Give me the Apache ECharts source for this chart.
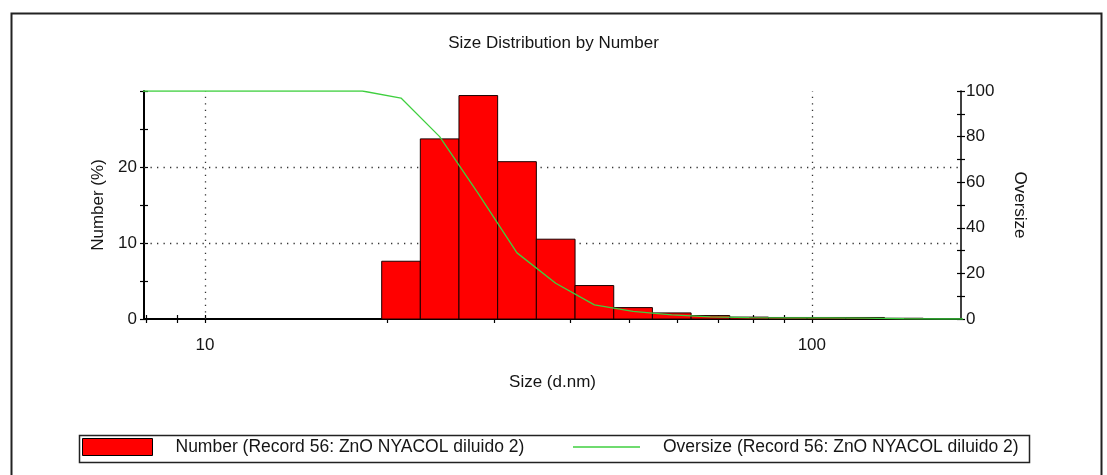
<!DOCTYPE html>
<html>
<head>
<meta charset="utf-8">
<script src="https://cdn.jsdelivr.net/npm/echarts@6/dist/echarts.min.js"></script>
<style>
  html, body { margin: 0; padding: 0; background: #ffffff; }
  #chart { width: 1107px; height: 475px; }
</style>
</head>
<body>
<div id="chart"></div>
<script>
// Size classes (d.nm) of the distribution
const sizes = [7.531, 8.721, 10.1, 11.7, 13.54, 15.69, 18.17, 21.04, 24.36, 28.21, 32.67, 37.84,
               43.82, 50.75, 58.77, 68.06, 78.82, 91.28, 105.7, 122.4, 141.8, 164.2, 190.1];
// Number distribution (%) per size class
const numberPct = [0, 0, 0, 0, 0, 0, 0, 7.6, 23.7, 29.4, 20.7, 10.5,
                   4.4, 1.5, 0.8, 0.45, 0.25, 0.2, 0.2, 0.2, 0.1, 0, 0];
// Cumulative oversize (%) at each size class
const oversize = [100, 100, 100, 100, 100, 100, 100, 96.9, 80.0, 55.0, 29.0, 15.7,
                  6.2, 3.3, 1.8, 0.9, 0.6, 0.5, 0.45, 0.35, 0.1, 0, 0];
// Axis ticks and labels
const xTickValues = [8, 9, 10, 20, 30, 40, 50, 60, 70, 80, 90, 100];
const xLabelValues = [10, 100];
const xRange = [7.935, 176.1];
const gridValuesNumber = [10, 20];
const gridValuesSize = [10, 100];

const numberName = 'Number (Record 56: ZnO NYACOL diluido 2)';
const oversizeName = 'Oversize (Record 56: ZnO NYACOL diluido 2)';
const titleText = 'Size Distribution by Number';

const FONT = 'Liberation Sans';
const FS = 17;
const FS_LEGEND = 17.5;
const TXT = '#151515';
const GREEN = '#3fcf3f';

// class edges: geometric mid-points between neighbouring classes
const barData = sizes.map((s, i) => {
  const prev = i > 0 ? sizes[i - 1] : s * s / sizes[i + 1];
  const next = i < sizes.length - 1 ? sizes[i + 1] : s * s / sizes[i - 1];
  return [s, numberPct[i], Math.sqrt(prev * s), Math.sqrt(s * next)];
});

const chart = echarts.init(document.getElementById('chart'), null, { renderer: 'canvas' });

const tickStyle = { color: '#000', width: 1.2 };
const baseY = (extra) => Object.assign({
  type: 'value',
  splitLine: { show: false },
  axisLine: { show: false },
  axisLabel: { show: false },
}, extra);

const option = {
  animation: false,
  backgroundColor: '#ffffff',
  textStyle: { fontFamily: FONT },
  title: {
    text: titleText,
    left: 'center',
    top: 30,
    textStyle: { fontFamily: FONT, fontSize: FS, fontWeight: 'normal', color: TXT }
  },
  grid: { left: 144, right: 146, top: 91, bottom: 156, containLabel: false },
  legend: [
    {
      left: 82, top: 438, padding: 0, itemWidth: 70, itemHeight: 17, selectedMode: false,
      data: [{ name: numberName, icon: 'rect',
               itemStyle: { color: '#ff0000', borderColor: '#000', borderWidth: 1 } }],
      textStyle: { fontFamily: FONT, fontSize: FS_LEGEND, color: TXT, padding: [0, 0, 0, 18] }
    },
    {
      left: 573, top: 438, padding: 0, itemWidth: 67, itemHeight: 1.5, selectedMode: false,
      data: [{ name: oversizeName, icon: 'rect',
               itemStyle: { color: GREEN, borderWidth: 0 } }],
      textStyle: { fontFamily: FONT, fontSize: FS_LEGEND, color: TXT, padding: [0, 0, 0, 18] }
    }
  ],
  xAxis: [
    {
      type: 'log', logBase: 10, min: xRange[0], max: xRange[1],
      name: 'Size (d.nm)', nameLocation: 'middle', nameGap: 55,
      nameTextStyle: { fontFamily: FONT, fontSize: FS, color: TXT },
      axisLine: { show: true, lineStyle: { color: '#000', width: 2 } },
      axisTick: { show: true, inside: false, length: 4, customValues: xTickValues, lineStyle: tickStyle },
      axisLabel: { show: true, customValues: xLabelValues, margin: 18,
                   fontFamily: FONT, fontSize: FS, color: TXT },
      splitLine: { show: false },
      minorTick: { show: false }
    },
    {
      type: 'log', logBase: 10, min: xRange[0], max: xRange[1], position: 'bottom',
      axisLine: { show: false },
      axisTick: { show: true, inside: true, length: 4, customValues: xTickValues, lineStyle: tickStyle },
      axisLabel: { show: false },
      splitLine: { show: false }
    }
  ],
  yAxis: [
    {
      type: 'value', position: 'left', min: 0, max: 30, interval: 10,
      name: 'Number (%)', nameLocation: 'middle', nameGap: 37,
      nameTextStyle: { fontFamily: FONT, fontSize: FS, color: TXT },
      axisLine: { show: true, lineStyle: { color: '#000', width: 2 } },
      axisTick: { show: true, inside: false, length: 4, lineStyle: tickStyle },
      minorTick: { show: true, splitNumber: 2, length: 4, lineStyle: tickStyle },
      axisLabel: { margin: 7, fontFamily: FONT, fontSize: FS, color: TXT,
                   formatter: (v) => (v === 30 ? '' : String(v)) },
      splitLine: { show: false }
    },
    {
      type: 'value', position: 'right', min: 0, max: 100, interval: 10,
      name: 'Oversize', nameLocation: 'middle', nameGap: 50, nameRotate: -90,
      nameTextStyle: { fontFamily: FONT, fontSize: FS, color: TXT },
      axisLine: { show: true, lineStyle: { color: '#000', width: 1.5 } },
      axisTick: { show: true, inside: false, length: 4, lineStyle: tickStyle },
      axisLabel: { margin: 5, fontFamily: FONT, fontSize: FS, color: TXT,
                   formatter: (v) => (v % 20 === 0 ? String(v) : '') },
      splitLine: { show: false }
    },
    baseY({ position: 'left', min: 0, max: 30, interval: 10,
            axisTick: { show: true, inside: true, length: 4, lineStyle: tickStyle },
            minorTick: { show: true, splitNumber: 2, length: 4, lineStyle: tickStyle } }),
    baseY({ position: 'right', min: 0, max: 100, interval: 10,
            axisTick: { show: true, inside: true, length: 4, lineStyle: tickStyle } })
  ],
  series: [
    {
      name: numberName,
      type: 'custom',
      xAxisIndex: 0, yAxisIndex: 0,
      z: 3,
      itemStyle: { color: '#ff0000', borderColor: '#000', borderWidth: 1 },
      encode: { x: 0, y: 1 },
      data: barData,
      renderItem: function (params, api) {
        const v = api.value(1);
        if (!(v > 0)) return null;
        const a = api.coord([api.value(2), 0]);
        const b = api.coord([api.value(3), v]);
        return {
          type: 'rect',
          shape: { x: a[0], y: b[1], width: b[0] - a[0], height: a[1] - b[1] },
          style: { fill: '#ff0000', stroke: '#1a0000', lineWidth: 1 }
        };
      },
      markLine: {
        silent: true, symbol: 'none', z: 1,
        label: { show: false },
        lineStyle: { color: '#333', width: 1.3, type: [1.3, 5.2] },
        data: gridValuesNumber.map((v) => ({ yAxis: v }))
          .concat(gridValuesSize.map((v) => ({ xAxis: v })))
      }
    },
    {
      name: oversizeName,
      type: 'line',
      xAxisIndex: 0, yAxisIndex: 1,
      z: 4,
      showSymbol: false, symbol: 'none',
      clip: true,
      lineStyle: { color: GREEN, width: 1.3 },
      itemStyle: { color: GREEN },
      data: sizes.map((s, i) => [s, oversize[i]])
    }
  ],
  graphic: [
    { type: 'rect', left: 9, top: 11, z: 100, silent: true,
      shape: { width: 1090, height: 480 },
      style: { fill: 'none', stroke: '#222', lineWidth: 2 } },
    { type: 'rect', left: 77, top: 433, z: 100, silent: true,
      shape: { width: 950, height: 27 },
      style: { fill: 'none', stroke: '#222', lineWidth: 1.5 } }
  ]
};

chart.setOption(option);
</script>
</body>
</html>
